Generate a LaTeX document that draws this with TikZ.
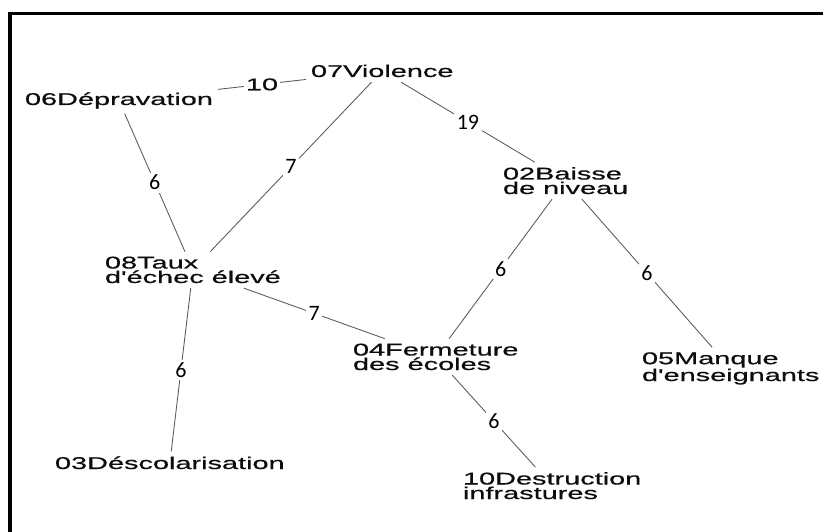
\documentclass[tikz,border=0pt]{standalone}
\usepackage{fontspec}
\newfontfamily\nodefont{Liberation Sans}[FakeStretch=1.7,FakeBold=0.6,Ligatures=TeXOff]
\newfontfamily\numfont{Carlito}
\begin{document}
\begin{tikzpicture}[x=1pt,y=-1pt,
  concept/.style={font=\nodefont\fontsize{17}{14.5}\selectfont, align=left, inner sep=0pt, outer sep=5pt, anchor=base west, text=black!95},
  link/.style={draw=black!65, line width=0.85pt},
  wt/.style={font=\numfont\fontsize{22}{22}\selectfont, fill=white, inner sep=2.5pt, text=black},
  wtb/.style={font=\nodefont\fontsize{17}{17}\selectfont, fill=white, inner sep=2pt, text=black!95}]
\useasboundingbox (0,0) rectangle (823,532);
\fill[white] (0,0) rectangle (823,532);
\draw[line width=3.5pt] (10,532) -- (10,13.5) -- (823,13.5);

\node[concept] (n06) at (20,105) {06Dépravation};
\node[concept] (n07) at (306,77) {07Violence};
\node[concept] (n02) at (498,194) {02Baisse\\de niveau};
\node[concept] (n08) at (100,283) {08Taux\\d'échec élevé};
\node[concept] (n04) at (348,370) {04Fermeture\\des écoles};
\node[concept] (n05) at (637,381) {05Manque\\d'enseignants};
\node[concept] (n03) at (50,469) {03Déscolarisation};
\node[concept] (n10) at (458,499) {10Destruction\\infrastures};

\draw[link] (n06) -- node[wtb] {10} (n07);
\draw[link] (n06) -- node[wt] {6} (n08);
\draw[link] (n07) -- node[wt] {7} (n08);
\draw[link] (n07) -- node[wt] {19} (n02);
\draw[link] (n02) -- node[wt] {6} (n04);
\draw[link] (n02) -- node[wt] {6} (n05);
\draw[link] (n08) -- node[wt] {7} (n04);
\draw[link] (n08) -- node[wt] {6} (n03);
\draw[link] (n04) -- node[wt] {6} (n10);
\end{tikzpicture}
\end{document}
